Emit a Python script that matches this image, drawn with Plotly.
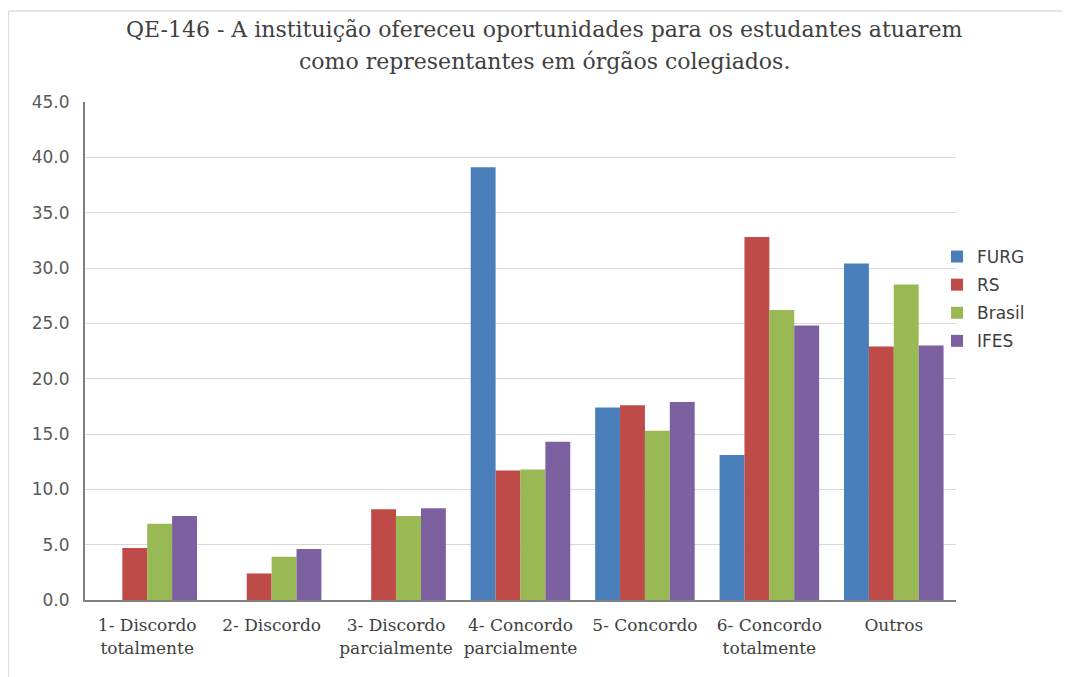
import plotly.graph_objects as go

categories = ["1- Discordo<br>totalmente", "2- Discordo", "3- Discordo<br>parcialmente",
              "4- Concordo<br>parcialmente", "5- Concordo", "6- Concordo<br>totalmente", "Outros"]
furg = [0, 0, 0, 39.1, 17.4, 13.1, 30.4]
rs = [4.7, 2.4, 8.2, 11.7, 17.6, 32.8, 22.9]
brasil = [6.9, 3.9, 7.6, 11.8, 15.3, 26.2, 28.5]
ifes = [7.6, 4.6, 8.3, 14.3, 17.9, 24.8, 23.0]
series_names = ["FURG", "RS", "Brasil", "IFES"]
colors = ["#4A7EBB", "#BE4B48", "#98B954", "#7D60A0"]
yticks = [0, 5, 10, 15, 20, 25, 30, 35, 40, 45]
title_lines = ["QE-146 - A instituição ofereceu oportunidades para os estudantes atuarem",
               "como representantes em órgãos colegiados."]

fig = go.Figure()
for name, vals, col in zip(series_names, [furg, rs, brasil, ifes], colors):
    fig.add_trace(go.Bar(name=name, x=categories, y=vals, marker_color=col,
                         marker_line_width=0, legendgroup=name))

# the page is drawn with an 8px body offset; work in figure pixels
W, H = 1063, 669
ml, mr, mt, mb = 77, 115, 94, 77
pw, ph = W - ml - mr, H - mt - mb

def px_x(x):
    return (x - ml) / pw

def px_y(y):
    return (H - mb - y) / ph

fig.update_layout(
    width=W, height=H,
    margin=dict(l=ml, r=mr, t=mt, b=mb),
    paper_bgcolor="white", plot_bgcolor="white",
    barmode="group", bargap=0.2, bargroupgap=0,
    xaxis=dict(showgrid=False, showline=True, linecolor="#808080", linewidth=2,
               ticks="", ticklabelstandoff=9,
               tickfont=dict(family="DejaVu Serif", size=17, color="#404040")),
    yaxis=dict(range=[0, 45], tickvals=yticks, ticktext=[f"{v:.1f}" for v in yticks],
               showgrid=True, gridcolor="#D9D9D9", gridwidth=1,
               showline=True, linecolor="#808080", linewidth=2, ticks="",
               ticklabelstandoff=10,
               tickfont=dict(family="DejaVu Sans", size=17, color="#595959"), zeroline=False),
    legend=dict(x=px_x(929), y=px_y(291), xanchor="left", yanchor="middle",
                font=dict(family="DejaVu Sans", size=17, color="#404040"),
                traceorder="grouped", tracegroupgap=3, bgcolor="rgba(0,0,0,0)"),
    showlegend=True,
)

for i, line in enumerate(title_lines):
    fig.add_annotation(text=line, xref="paper", yref="paper",
                       x=px_x(536), y=px_y(22 + 32 * i), xanchor="center", yanchor="middle",
                       showarrow=False,
                       font=dict(family="DejaVu Serif", size=22, color="#404040"))

# faint frame around the chart (top and left edges)
fig.add_shape(type="line", xref="paper", yref="paper",
              x0=px_x(0.5), x1=px_x(W), y0=px_y(3), y1=px_y(3),
              line=dict(color="#E0E0E0", width=1.5))
fig.add_shape(type="line", xref="paper", yref="paper",
              x0=px_x(0.5), x1=px_x(0.5), y0=px_y(3), y1=px_y(H),
              line=dict(color="#E0E0E0", width=1.5))

fig.write_html("out.html")
